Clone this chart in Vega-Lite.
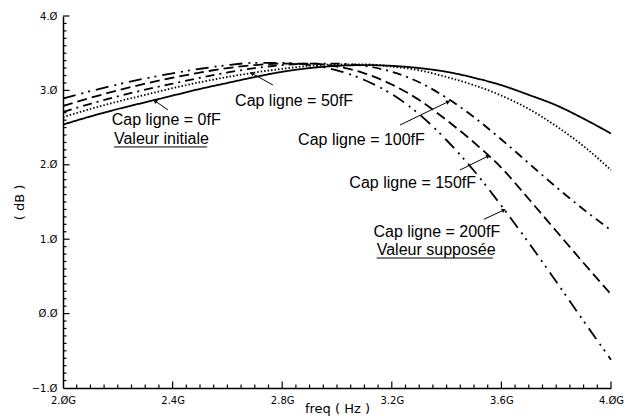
{
  "$schema": "https://vega.github.io/schema/vega-lite/v6.json",
  "autosize": {"type": "none"},
  "padding": {"left": 63, "top": 16, "right": 19, "bottom": 32},
  "width": 548,
  "height": 372,
  "background": "white",
  "config": {
    "view": {"stroke": null},
    "axis": {"grid": false, "domainColor": "#000", "domainWidth": 1.5, "ticks": false, "labelColor": "#000", "labelFont": "DejaVu Sans", "labelFontSize": 10, "labelOverlap": false, "labelBound": false, "labelFlush": false, "titleFont": "DejaVu Sans", "titleFontSize": 13, "titleFontWeight": "normal", "titleColor": "#000"}
  },
  "datasets": {
    "curves": [
      {"freq": 2.0, "gain": 2.54, "cap": "0fF"}, {"freq": 2.1, "gain": 2.65, "cap": "0fF"}, {"freq": 2.2, "gain": 2.75, "cap": "0fF"}, {"freq": 2.3, "gain": 2.84, "cap": "0fF"}, {"freq": 2.4, "gain": 2.93, "cap": "0fF"}, {"freq": 2.5, "gain": 3.02, "cap": "0fF"}, {"freq": 2.6, "gain": 3.10, "cap": "0fF"}, {"freq": 2.7, "gain": 3.18, "cap": "0fF"}, {"freq": 2.8, "gain": 3.25, "cap": "0fF"}, {"freq": 2.9, "gain": 3.30, "cap": "0fF"}, {"freq": 3.0, "gain": 3.33, "cap": "0fF"}, {"freq": 3.1, "gain": 3.34, "cap": "0fF"}, {"freq": 3.2, "gain": 3.33, "cap": "0fF"}, {"freq": 3.3, "gain": 3.30, "cap": "0fF"}, {"freq": 3.4, "gain": 3.25, "cap": "0fF"}, {"freq": 3.5, "gain": 3.17, "cap": "0fF"}, {"freq": 3.6, "gain": 3.07, "cap": "0fF"}, {"freq": 3.7, "gain": 2.94, "cap": "0fF"}, {"freq": 3.8, "gain": 2.80, "cap": "0fF"}, {"freq": 3.9, "gain": 2.62, "cap": "0fF"}, {"freq": 4.0, "gain": 2.42, "cap": "0fF"},
      {"freq": 2.0, "gain": 2.64, "cap": "50fF"}, {"freq": 2.1, "gain": 2.75, "cap": "50fF"}, {"freq": 2.2, "gain": 2.85, "cap": "50fF"}, {"freq": 2.3, "gain": 2.94, "cap": "50fF"}, {"freq": 2.4, "gain": 3.03, "cap": "50fF"}, {"freq": 2.5, "gain": 3.11, "cap": "50fF"}, {"freq": 2.6, "gain": 3.18, "cap": "50fF"}, {"freq": 2.7, "gain": 3.24, "cap": "50fF"}, {"freq": 2.8, "gain": 3.29, "cap": "50fF"}, {"freq": 2.9, "gain": 3.33, "cap": "50fF"}, {"freq": 3.0, "gain": 3.35, "cap": "50fF"}, {"freq": 3.1, "gain": 3.35, "cap": "50fF"}, {"freq": 3.2, "gain": 3.32, "cap": "50fF"}, {"freq": 3.3, "gain": 3.27, "cap": "50fF"}, {"freq": 3.4, "gain": 3.18, "cap": "50fF"}, {"freq": 3.5, "gain": 3.07, "cap": "50fF"}, {"freq": 3.6, "gain": 2.93, "cap": "50fF"}, {"freq": 3.7, "gain": 2.75, "cap": "50fF"}, {"freq": 3.8, "gain": 2.52, "cap": "50fF"}, {"freq": 3.9, "gain": 2.25, "cap": "50fF"}, {"freq": 4.0, "gain": 1.93, "cap": "50fF"},
      {"freq": 2.0, "gain": 2.71, "cap": "100fF"}, {"freq": 2.1, "gain": 2.82, "cap": "100fF"}, {"freq": 2.2, "gain": 2.92, "cap": "100fF"}, {"freq": 2.3, "gain": 3.01, "cap": "100fF"}, {"freq": 2.4, "gain": 3.09, "cap": "100fF"}, {"freq": 2.5, "gain": 3.17, "cap": "100fF"}, {"freq": 2.6, "gain": 3.24, "cap": "100fF"}, {"freq": 2.7, "gain": 3.30, "cap": "100fF"}, {"freq": 2.8, "gain": 3.34, "cap": "100fF"}, {"freq": 2.9, "gain": 3.36, "cap": "100fF"}, {"freq": 3.0, "gain": 3.36, "cap": "100fF"}, {"freq": 3.1, "gain": 3.33, "cap": "100fF"}, {"freq": 3.2, "gain": 3.25, "cap": "100fF"}, {"freq": 3.3, "gain": 3.11, "cap": "100fF"}, {"freq": 3.4, "gain": 2.90, "cap": "100fF"}, {"freq": 3.5, "gain": 2.64, "cap": "100fF"}, {"freq": 3.6, "gain": 2.34, "cap": "100fF"}, {"freq": 3.7, "gain": 2.02, "cap": "100fF"}, {"freq": 3.8, "gain": 1.70, "cap": "100fF"}, {"freq": 3.9, "gain": 1.40, "cap": "100fF"}, {"freq": 4.0, "gain": 1.12, "cap": "100fF"},
      {"freq": 2.0, "gain": 2.79, "cap": "150fF"}, {"freq": 2.1, "gain": 2.90, "cap": "150fF"}, {"freq": 2.2, "gain": 3.00, "cap": "150fF"}, {"freq": 2.3, "gain": 3.09, "cap": "150fF"}, {"freq": 2.4, "gain": 3.17, "cap": "150fF"}, {"freq": 2.5, "gain": 3.24, "cap": "150fF"}, {"freq": 2.6, "gain": 3.30, "cap": "150fF"}, {"freq": 2.7, "gain": 3.34, "cap": "150fF"}, {"freq": 2.8, "gain": 3.36, "cap": "150fF"}, {"freq": 2.9, "gain": 3.36, "cap": "150fF"}, {"freq": 3.0, "gain": 3.32, "cap": "150fF"}, {"freq": 3.1, "gain": 3.23, "cap": "150fF"}, {"freq": 3.2, "gain": 3.08, "cap": "150fF"}, {"freq": 3.3, "gain": 2.87, "cap": "150fF"}, {"freq": 3.4, "gain": 2.60, "cap": "150fF"}, {"freq": 3.5, "gain": 2.30, "cap": "150fF"}, {"freq": 3.6, "gain": 1.96, "cap": "150fF"}, {"freq": 3.7, "gain": 1.54, "cap": "150fF"}, {"freq": 3.8, "gain": 1.11, "cap": "150fF"}, {"freq": 3.9, "gain": 0.68, "cap": "150fF"}, {"freq": 4.0, "gain": 0.26, "cap": "150fF"},
      {"freq": 2.0, "gain": 2.89, "cap": "200fF"}, {"freq": 2.1, "gain": 2.99, "cap": "200fF"}, {"freq": 2.2, "gain": 3.08, "cap": "200fF"}, {"freq": 2.3, "gain": 3.16, "cap": "200fF"}, {"freq": 2.4, "gain": 3.23, "cap": "200fF"}, {"freq": 2.5, "gain": 3.29, "cap": "200fF"}, {"freq": 2.6, "gain": 3.34, "cap": "200fF"}, {"freq": 2.7, "gain": 3.37, "cap": "200fF"}, {"freq": 2.8, "gain": 3.37, "cap": "200fF"}, {"freq": 2.9, "gain": 3.34, "cap": "200fF"}, {"freq": 3.0, "gain": 3.27, "cap": "200fF"}, {"freq": 3.1, "gain": 3.14, "cap": "200fF"}, {"freq": 3.2, "gain": 2.95, "cap": "200fF"}, {"freq": 3.3, "gain": 2.68, "cap": "200fF"}, {"freq": 3.4, "gain": 2.33, "cap": "200fF"}, {"freq": 3.5, "gain": 1.92, "cap": "200fF"}, {"freq": 3.6, "gain": 1.45, "cap": "200fF"}, {"freq": 3.7, "gain": 0.95, "cap": "200fF"}, {"freq": 3.8, "gain": 0.43, "cap": "200fF"}, {"freq": 3.9, "gain": -0.10, "cap": "200fF"}, {"freq": 4.0, "gain": -0.62, "cap": "200fF"}
    ],
    "arrows": [
      {"freq": 2.383, "gain": 2.737, "freq2": 2.336, "gain2": 2.858},
      {"freq": 2.766, "gain": 3.073, "freq2": 2.689, "gain2": 3.23},
      {"freq": 3.23, "gain": 2.535, "freq2": 3.406, "gain2": 2.848},
      {"freq": 3.449, "gain": 1.93, "freq2": 3.552, "gain2": 2.118},
      {"freq": 3.536, "gain": 1.267, "freq2": 3.609, "gain2": 1.392}
    ],
    "heads": [
      {"freq": 2.336, "gain": 2.858, "angle": 305},
      {"freq": 2.689, "gain": 3.23, "angle": 299},
      {"freq": 3.406, "gain": 2.848, "angle": 64},
      {"freq": 3.552, "gain": 2.118, "angle": 64},
      {"freq": 3.609, "gain": 1.392, "angle": 65}
    ],
    "labels": [
      {"freq": 2.178, "gain": 2.535, "text": "Cap ligne = 0fF"},
      {"freq": 2.186, "gain": 2.28, "text": "Valeur initiale"},
      {"freq": 2.628, "gain": 2.79, "text": "Cap ligne = 50fF"},
      {"freq": 2.858, "gain": 2.266, "text": "Cap ligne = 100fF"},
      {"freq": 3.045, "gain": 1.684, "text": "Cap ligne = 150fF"},
      {"freq": 3.133, "gain": 1.025, "text": "Cap ligne = 200fF"},
      {"freq": 3.145, "gain": 0.788, "text": "Valeur supposée"}
    ],
    "underlines": [
      {"freq": 2.186, "freq2": 2.526, "gain": 2.24},
      {"freq": 3.145, "freq2": 3.569, "gain": 0.747}
    ],
    "xminor": [
      {"freq": 2.05, "gain": -1}, {"freq": 2.1, "gain": -1}, {"freq": 2.15, "gain": -1}, {"freq": 2.2, "gain": -1}, {"freq": 2.25, "gain": -1}, {"freq": 2.3, "gain": -1}, {"freq": 2.35, "gain": -1},
      {"freq": 2.45, "gain": -1}, {"freq": 2.5, "gain": -1}, {"freq": 2.55, "gain": -1}, {"freq": 2.6, "gain": -1}, {"freq": 2.65, "gain": -1}, {"freq": 2.7, "gain": -1}, {"freq": 2.75, "gain": -1},
      {"freq": 2.85, "gain": -1}, {"freq": 2.9, "gain": -1}, {"freq": 2.95, "gain": -1}, {"freq": 3.0, "gain": -1}, {"freq": 3.05, "gain": -1}, {"freq": 3.1, "gain": -1}, {"freq": 3.15, "gain": -1},
      {"freq": 3.25, "gain": -1}, {"freq": 3.3, "gain": -1}, {"freq": 3.35, "gain": -1}, {"freq": 3.4, "gain": -1}, {"freq": 3.45, "gain": -1}, {"freq": 3.5, "gain": -1}, {"freq": 3.55, "gain": -1},
      {"freq": 3.65, "gain": -1}, {"freq": 3.7, "gain": -1}, {"freq": 3.75, "gain": -1}, {"freq": 3.8, "gain": -1}, {"freq": 3.85, "gain": -1}, {"freq": 3.9, "gain": -1}, {"freq": 3.95, "gain": -1}
    ],
    "xmajor": [
      {"freq": 2.4, "gain": -1}, {"freq": 2.8, "gain": -1}, {"freq": 3.2, "gain": -1}, {"freq": 3.6, "gain": -1}, {"freq": 4.0, "gain": -1}
    ],
    "yminor": [
      {"freq": 2, "gain": -0.9}, {"freq": 2, "gain": -0.8}, {"freq": 2, "gain": -0.7}, {"freq": 2, "gain": -0.6}, {"freq": 2, "gain": -0.5}, {"freq": 2, "gain": -0.4}, {"freq": 2, "gain": -0.3}, {"freq": 2, "gain": -0.2}, {"freq": 2, "gain": -0.1},
      {"freq": 2, "gain": 0.1}, {"freq": 2, "gain": 0.2}, {"freq": 2, "gain": 0.3}, {"freq": 2, "gain": 0.4}, {"freq": 2, "gain": 0.5}, {"freq": 2, "gain": 0.6}, {"freq": 2, "gain": 0.7}, {"freq": 2, "gain": 0.8}, {"freq": 2, "gain": 0.9},
      {"freq": 2, "gain": 1.1}, {"freq": 2, "gain": 1.2}, {"freq": 2, "gain": 1.3}, {"freq": 2, "gain": 1.4}, {"freq": 2, "gain": 1.5}, {"freq": 2, "gain": 1.6}, {"freq": 2, "gain": 1.7}, {"freq": 2, "gain": 1.8}, {"freq": 2, "gain": 1.9},
      {"freq": 2, "gain": 2.1}, {"freq": 2, "gain": 2.2}, {"freq": 2, "gain": 2.3}, {"freq": 2, "gain": 2.4}, {"freq": 2, "gain": 2.5}, {"freq": 2, "gain": 2.6}, {"freq": 2, "gain": 2.7}, {"freq": 2, "gain": 2.8}, {"freq": 2, "gain": 2.9},
      {"freq": 2, "gain": 3.1}, {"freq": 2, "gain": 3.2}, {"freq": 2, "gain": 3.3}, {"freq": 2, "gain": 3.4}, {"freq": 2, "gain": 3.5}, {"freq": 2, "gain": 3.6}, {"freq": 2, "gain": 3.7}, {"freq": 2, "gain": 3.8}, {"freq": 2, "gain": 3.9}
    ],
    "ymajor": [
      {"freq": 2, "gain": 0.0}, {"freq": 2, "gain": 1.0}, {"freq": 2, "gain": 2.0}, {"freq": 2, "gain": 3.0}, {"freq": 2, "gain": 4.0}
    ]
  },
  "encoding": {
    "x": {"field": "freq", "type": "quantitative", "title": "freq ( Hz )", "scale": {"domain": [2, 4], "nice": false, "zero": false},
      "axis": {"values": [2.0, 2.4, 2.8, 3.2, 3.6, 4.0],
        "labelExpr": "replace(format(datum.value, '.1f') + 'G', /0/g, 'Ø')",
        "labelPadding": 7, "titlePadding": -3}},
    "y": {"field": "gain", "type": "quantitative", "title": "( dB )", "scale": {"domain": [-1, 4], "nice": false, "zero": false},
      "axis": {"values": [-1.0, 0.0, 1.0, 2.0, 3.0, 4.0],
        "labelExpr": "replace(format(datum.value, '.1f'), /0/g, 'Ø')",
        "labelPadding": 6, "titlePadding": 5}}
  },
  "layer": [
    {
      "data": {"name": "curves"},
      "mark": {"type": "line", "interpolate": "monotone", "color": "#000", "strokeWidth": 1.8, "strokeCap": "butt"},
      "encoding": {
        "strokeDash": {"field": "cap", "type": "nominal", "legend": null,
          "scale": {"domain": ["0fF", "50fF", "100fF", "150fF", "200fF"], "range": [[1, 0], [1.5, 2], [9, 5, 2, 5], [10, 5], [13, 6, 2, 5, 2, 6]]}},
        "detail": {"field": "cap"}
      }
    },
    {
      "data": {"name": "xminor"},
      "mark": {"type": "rule", "color": "#000", "strokeWidth": 1.2},
      "encoding": {"y2": {"datum": -0.953}}
    },
    {
      "data": {"name": "xmajor"},
      "mark": {"type": "rule", "color": "#000", "strokeWidth": 1.2},
      "encoding": {"y2": {"datum": -0.913}}
    },
    {
      "data": {"name": "yminor"},
      "mark": {"type": "rule", "color": "#000", "strokeWidth": 1.2},
      "encoding": {"x2": {"datum": 2.0128}}
    },
    {
      "data": {"name": "ymajor"},
      "mark": {"type": "rule", "color": "#000", "strokeWidth": 1.2},
      "encoding": {"x2": {"datum": 2.0237}}
    },
    {
      "data": {"name": "arrows"},
      "mark": {"type": "rule", "color": "#000", "strokeWidth": 1},
      "encoding": {
        "x2": {"field": "freq2"},
        "y2": {"field": "gain2"}
      }
    },
    {
      "data": {"name": "heads"},
      "mark": {"type": "point", "shape": "triangle-up", "filled": true, "color": "#000", "size": 22, "opacity": 1},
      "encoding": {
        "angle": {"field": "angle", "type": "quantitative", "scale": null}
      }
    },
    {
      "data": {"name": "labels"},
      "mark": {"type": "text", "align": "left", "baseline": "alphabetic", "font": "Liberation Sans", "fontSize": 16, "color": "#000"},
      "encoding": {
        "text": {"field": "text"}
      }
    },
    {
      "data": {"name": "underlines"},
      "mark": {"type": "rule", "color": "#000", "strokeWidth": 1},
      "encoding": {
        "x2": {"field": "freq2"}
      }
    }
  ]
}
